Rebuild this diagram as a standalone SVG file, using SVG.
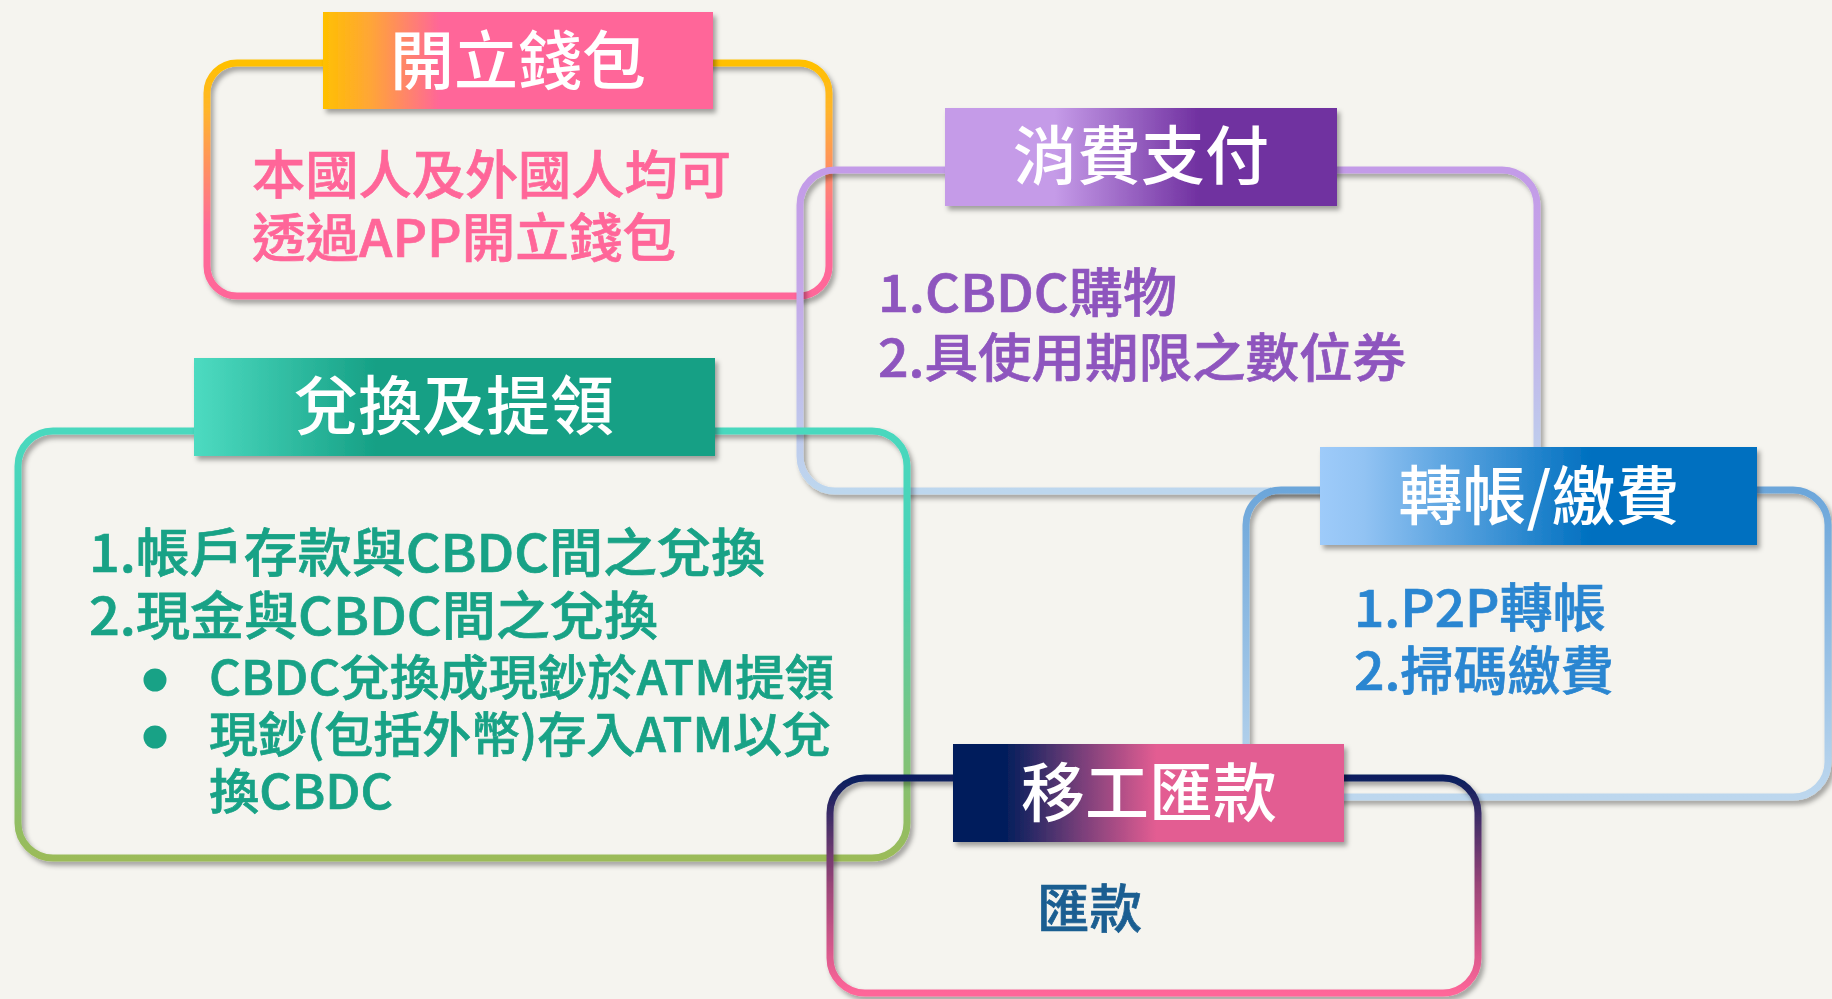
<svg xmlns="http://www.w3.org/2000/svg" width="1832" height="999" viewBox="0 0 1832 999">
<defs>
<style>
.box{fill:none;stroke-width:7;filter:url(#sh)}
.hdr{filter:url(#sh)}
.ht{font-family:'Noto Sans CJK TC','Noto Sans CJK SC',sans-serif;font-size:64px;font-weight:500;fill:#ffffff;text-anchor:middle}
.bt{font-family:'Noto Sans CJK TC','Noto Sans CJK SC',sans-serif;font-size:52px;font-weight:500;stroke-width:0.7}
.sm{font-size:48px}
.c1{fill:#FF6699;stroke:#FF6699}
.c2{fill:#8E55BE;stroke:#8E55BE}
.c3{fill:#18A286;stroke:#18A286}
.c4{fill:#2A86D1;stroke:#2A86D1}
.c5{fill:#1B5E91;stroke:#1B5E91}
</style>
<filter id="sh" x="-5%" y="-10%" width="115%" height="130%">
<feDropShadow dx="3" dy="4" stdDeviation="2.5" flood-color="#000000" flood-opacity="0.35"/>
</filter>
<linearGradient id="s1" x1="0" y1="0" x2="0" y2="1"><stop offset="0" stop-color="#FFC000"/><stop offset="0.2" stop-color="#FFB52A"/><stop offset="0.7" stop-color="#FF6A98"/><stop offset="1" stop-color="#FF6699"/></linearGradient>
<linearGradient id="h1" x1="0" y1="0" x2="1" y2="0"><stop offset="0" stop-color="#FFC000"/><stop offset="0.12" stop-color="#FFA636"/><stop offset="0.3" stop-color="#FF6699"/><stop offset="1" stop-color="#FF6699"/></linearGradient>
<linearGradient id="s2" x1="0" y1="0" x2="0" y2="1"><stop offset="0" stop-color="#C39BE8"/><stop offset="0.35" stop-color="#C4A6E8"/><stop offset="1" stop-color="#BDD7EE"/></linearGradient>
<linearGradient id="h2" x1="0" y1="0" x2="1" y2="0"><stop offset="0" stop-color="#C59BE8"/><stop offset="0.28" stop-color="#C59BE8"/><stop offset="0.65" stop-color="#7030A0"/><stop offset="1" stop-color="#7030A0"/></linearGradient>
<linearGradient id="s3" x1="0" y1="0" x2="0" y2="1"><stop offset="0" stop-color="#48D8BE"/><stop offset="0.3" stop-color="#48D2B6"/><stop offset="1" stop-color="#9BBB59"/></linearGradient>
<linearGradient id="h3" x1="0" y1="0" x2="1" y2="0"><stop offset="0" stop-color="#4DDBC1"/><stop offset="0.35" stop-color="#16A085"/><stop offset="1" stop-color="#16A085"/></linearGradient>
<linearGradient id="s4" x1="0" y1="0" x2="0" y2="1"><stop offset="0" stop-color="#6CA6DA"/><stop offset="1" stop-color="#BDD7EE"/></linearGradient>
<linearGradient id="h4" x1="0" y1="0" x2="1" y2="0"><stop offset="0" stop-color="#9ECBFA"/><stop offset="0.1" stop-color="#92C3F3"/><stop offset="0.62" stop-color="#0070C0"/><stop offset="1" stop-color="#0070C0"/></linearGradient>
<linearGradient id="s5" x1="0" y1="0" x2="0" y2="1"><stop offset="0" stop-color="#0A1F5E"/><stop offset="0.5" stop-color="#9A4578"/><stop offset="1" stop-color="#FF6699"/></linearGradient>
<linearGradient id="h5" x1="0" y1="0" x2="1" y2="0"><stop offset="0" stop-color="#061F5C"/><stop offset="0.14" stop-color="#061F5C"/><stop offset="0.33" stop-color="#7A3F7A"/><stop offset="0.52" stop-color="#E35D92"/><stop offset="1" stop-color="#E35D92"/></linearGradient>
</defs>
<rect x="0" y="0" width="1832" height="999" fill="#F5F4EF"/>
<g id="connectors"/>
<g id="node-open-wallet">
<rect class="box" x="207" y="63" width="622" height="233" rx="30" stroke="url(#s1)"/>
<rect class="hdr" x="323" y="12" width="390" height="97" fill="url(#h1)"/>
<text class="ht" x="518" y="84">開立錢包</text>
<text class="bt c1" x="252" y="194" textLength="479" lengthAdjust="spacingAndGlyphs">本國人及外國人均可</text>
<text class="bt c1" x="252" y="257" textLength="424" lengthAdjust="spacingAndGlyphs">透過APP開立錢包</text>
</g>
<g id="node-payment">
<rect class="box" x="800" y="170" width="737" height="321" rx="35" stroke="url(#s2)"/>
<rect class="hdr" x="945" y="108" width="392" height="98" fill="url(#h2)"/>
<text class="ht" x="1141" y="179">消費支付</text>
<text class="bt c2" x="878" y="312" textLength="299" lengthAdjust="spacingAndGlyphs">1.CBDC購物</text>
<text class="bt c2" x="878" y="377" textLength="528" lengthAdjust="spacingAndGlyphs">2.具使用期限之數位券</text>
</g>
<g id="node-exchange">
<rect class="box" x="18" y="431" width="889" height="427" rx="35" stroke="url(#s3)"/>
<rect class="hdr" x="194" y="358" width="521" height="98" fill="url(#h3)"/>
<text class="ht" x="454" y="429">兌換及提領</text>
<text class="bt c3" x="89" y="572" textLength="676" lengthAdjust="spacingAndGlyphs">1.帳戶存款與CBDC間之兌換</text>
<text class="bt c3" x="89" y="635" textLength="569" lengthAdjust="spacingAndGlyphs">2.現金與CBDC間之兌換</text>
<circle cx="155" cy="680" r="11.5" fill="#18A286"/>
<text class="bt sm c3" x="209" y="695" textLength="625" lengthAdjust="spacingAndGlyphs">CBDC兌換成現鈔於ATM提領</text>
<circle cx="155" cy="737" r="11.5" fill="#18A286"/>
<text class="bt sm c3" x="209" y="752" textLength="622" lengthAdjust="spacingAndGlyphs">現鈔(包括外幣)存入ATM以兌</text>
<text class="bt sm c3" x="209" y="809" textLength="184" lengthAdjust="spacingAndGlyphs">換CBDC</text>
</g>
<g id="node-transfer">
<rect class="box" x="1246" y="490" width="582" height="307" rx="35" stroke="url(#s4)"/>
<rect class="hdr" x="1320" y="447" width="437" height="98" fill="url(#h4)"/>
<text class="ht" x="1539" y="519">轉帳/繳費</text>
<text class="bt c4" x="1354" y="627" textLength="252" lengthAdjust="spacingAndGlyphs">1.P2P轉帳</text>
<text class="bt c4" x="1354" y="690" textLength="260" lengthAdjust="spacingAndGlyphs">2.掃碼繳費</text>
</g>
<g id="node-remittance">
<rect class="box" x="830" y="778" width="648" height="215" rx="35" stroke="url(#s5)"/>
<rect class="hdr" x="953" y="744" width="391" height="98" fill="url(#h5)"/>
<text class="ht" x="1149" y="816">移工匯款</text>
<text class="bt c5" x="1037" y="928" textLength="105" lengthAdjust="spacingAndGlyphs">匯款</text>
</g>
</svg>
